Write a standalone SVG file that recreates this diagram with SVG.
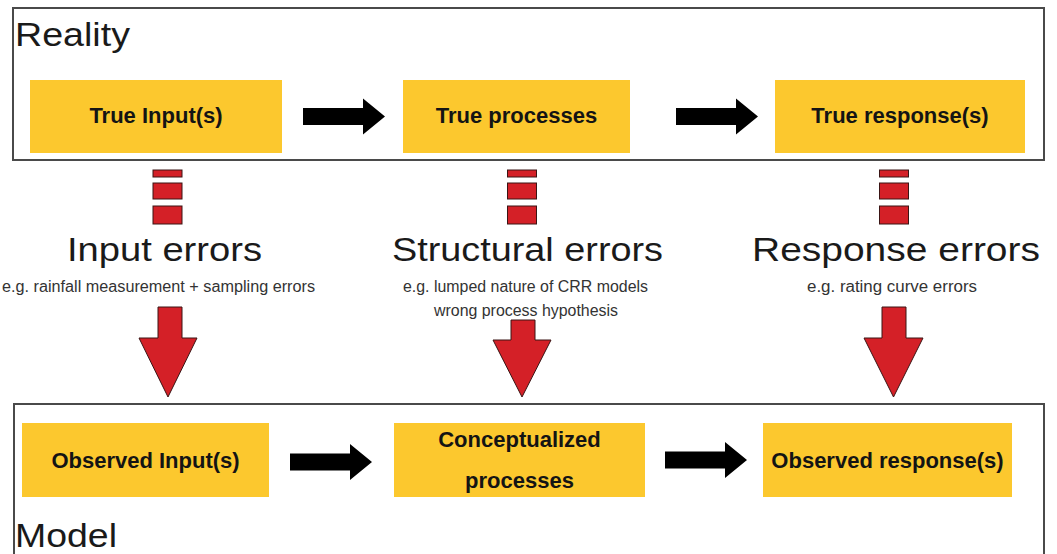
<svg xmlns="http://www.w3.org/2000/svg" width="1057" height="554" viewBox="0 0 1057 554">
  <defs>
    <style>
      .frame { fill: none; stroke: #4a4a4a; stroke-width: 2; }
      .box { fill: #fcc82e; }
      .lbl { font-family: "Liberation Sans", Arial, sans-serif; font-weight: bold; font-size: 22px; fill: #141414; text-anchor: middle; }
      .title { font-family: "Liberation Sans", Arial, sans-serif; font-size: 34px; fill: #1a1a1a; }
      .err { font-family: "Liberation Sans", Arial, sans-serif; font-size: 34px; fill: #1a1a1a; text-anchor: middle; }
      .sub { font-family: "Liberation Sans Narrow", "Liberation Sans", Arial, sans-serif; font-size: 16px; fill: #333; text-anchor: middle; }
      .flow { fill: #000; }
      .red { fill: #d42027; stroke: #3a1414; stroke-width: 1; }
    </style>
    <!-- block arrow pointing right, origin at tail centre -->
    <path id="flowArrow" d="M0,-8.5 H60 V-18 L82,0 L60,18 V8.5 H0 Z"/>
    <!-- dashed red stem: three stacked bars, origin at top centre -->
    <g id="stem">
      <rect x="-14.5" y="0" width="29" height="7"/>
      <rect x="-14.5" y="13" width="29" height="16"/>
      <rect x="-14.5" y="36" width="29" height="18"/>
    </g>
  </defs>

  <rect width="1057" height="554" fill="#fff"/>

  <!-- Reality frame -->
  <g id="reality">
    <rect class="frame" x="13" y="8" width="1031" height="152"/>
    <text class="title" x="15" y="46" textLength="115" lengthAdjust="spacingAndGlyphs">Reality</text>
  </g>

  <!-- Model frame (open at the bottom edge) -->
  <g id="model">
    <rect class="frame" x="14" y="404" width="1030" height="170"/>
    <text class="title" x="15" y="547" font-size="35" textLength="102" lengthAdjust="spacingAndGlyphs">Model</text>
  </g>

  <g id="true-input">
    <rect class="box" x="30" y="80" width="252" height="73"/>
    <text class="lbl" x="156" y="123">True Input(s)</text>
  </g>
  <g id="true-processes">
    <rect class="box" x="403" y="80" width="227" height="73"/>
    <text class="lbl" x="516.5" y="123">True processes</text>
  </g>
  <g id="true-response">
    <rect class="box" x="775" y="80" width="250" height="73"/>
    <text class="lbl" x="900" y="123">True response(s)</text>
  </g>

  <g id="observed-input">
    <rect class="box" x="22" y="423" width="247" height="74"/>
    <text class="lbl" x="145.5" y="468">Observed Input(s)</text>
  </g>
  <g id="conceptualized-processes">
    <rect class="box" x="394" y="423" width="251" height="74"/>
    <text class="lbl" x="519.5" y="447">Conceptualized</text>
    <text class="lbl" x="519.5" y="488">processes</text>
  </g>
  <g id="observed-response">
    <rect class="box" x="763" y="423" width="249" height="74"/>
    <text class="lbl" x="887.5" y="468">Observed response(s)</text>
  </g>

  <!-- error labels -->
  <g id="input-errors">
    <text class="err" x="164.5" y="261" textLength="195" lengthAdjust="spacingAndGlyphs">Input errors</text>
    <text class="sub" x="158.5" y="292" textLength="313" lengthAdjust="spacingAndGlyphs">e.g. rainfall measurement + sampling errors</text>
  </g>
  <g id="structural-errors">
    <text class="err" x="527.5" y="261" textLength="271" lengthAdjust="spacingAndGlyphs">Structural errors</text>
    <text class="sub" x="525.5" y="292" textLength="245" lengthAdjust="spacingAndGlyphs">e.g. lumped nature of CRR models</text>
    <text class="sub" x="526" y="316" textLength="184" lengthAdjust="spacingAndGlyphs">wrong process hypothesis</text>
  </g>
  <g id="response-errors">
    <text class="err" x="896" y="261" textLength="288" lengthAdjust="spacingAndGlyphs">Response errors</text>
    <text class="sub" x="892" y="292" textLength="170" lengthAdjust="spacingAndGlyphs">e.g. rating curve errors</text>
  </g>

  <!-- connectors -->
  <g id="connectors">
    <use href="#flowArrow" class="flow" x="303" y="116.5"/>
    <use href="#flowArrow" class="flow" x="676" y="116.5"/>
    <use href="#flowArrow" class="flow" x="290" y="462"/>
    <use href="#flowArrow" class="flow" x="665" y="460"/>

    <use href="#stem" class="red" x="167.5" y="170"/>
    <use href="#stem" class="red" x="522" y="170"/>
    <use href="#stem" class="red" x="894" y="170"/>

    <path class="red" d="M158,307 H182 V338 H197 L168,397 L139,338 H158 Z"/>
    <path class="red" d="M511,320 H535 V340 H551 L522,397 L493,340 H511 Z"/>
    <path class="red" d="M882,307 H906 V338 H923 L893.5,397 L864,338 H882 Z"/>
  </g>
</svg>
